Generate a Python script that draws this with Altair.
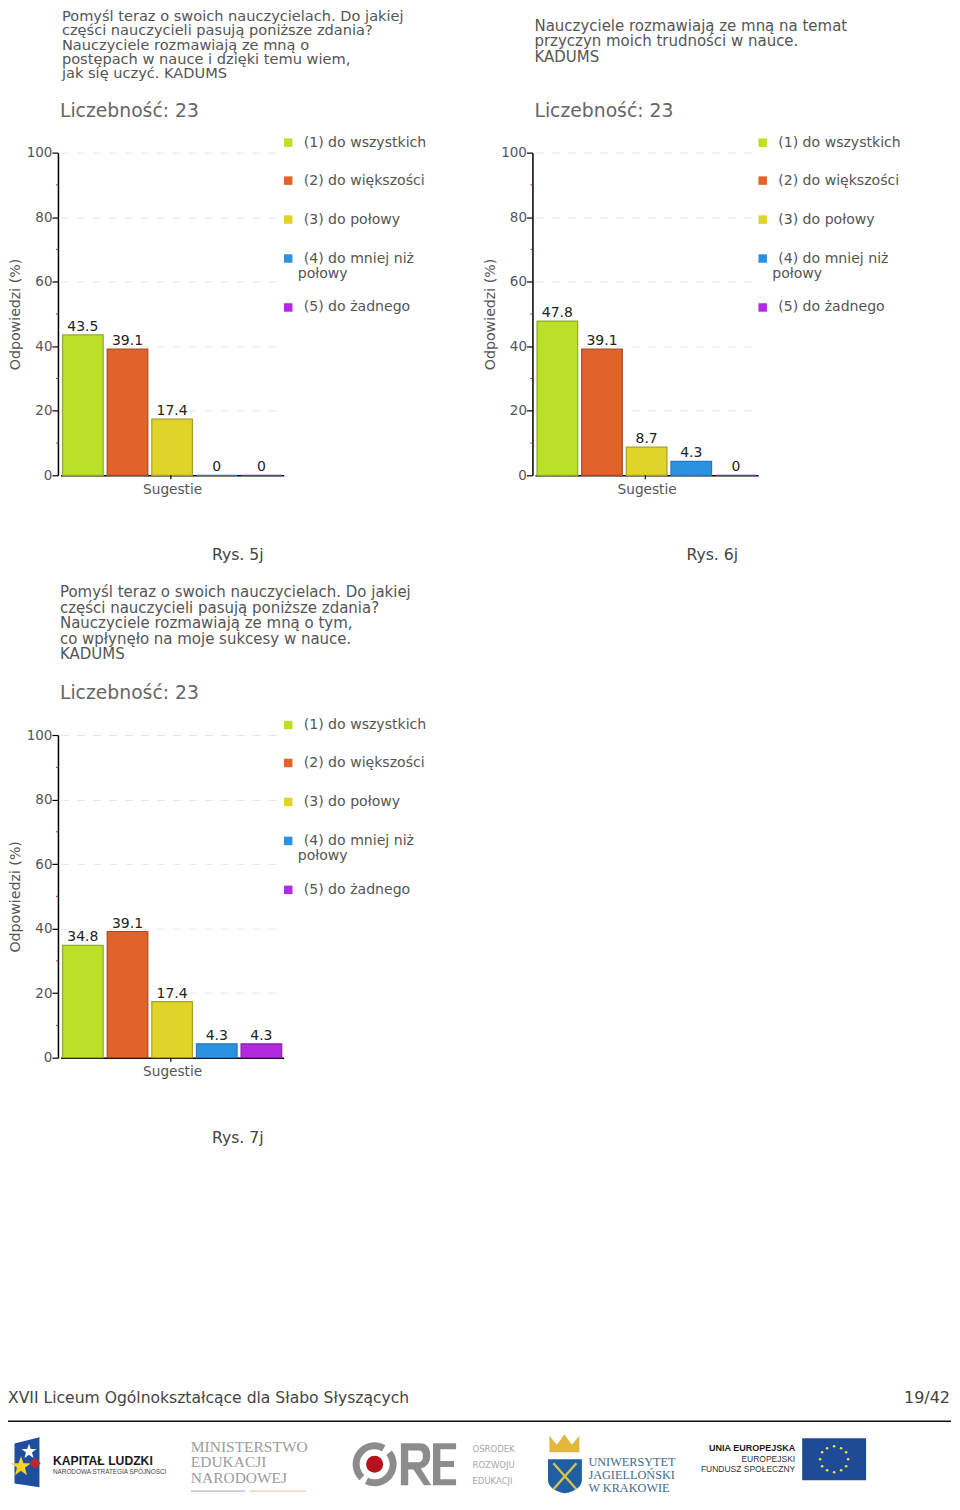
import altair as alt
import pandas as pd

categories = ["(1) do wszystkich", "(2) do większości", "(3) do połowy", "(4) do mniej niż połowy", "(5) do żadnego"]
colors = ["#BBE02A", "#E0642A", "#E0D42A", "#2A92E0", "#B22AE0"]
strokes = ["#93A82A", "#A84A20", "#A89E2A", "#2A78B8", "#8A20B0"]
values_5j = [43.5, 39.1, 17.4, 0, 0]
values_6j = [47.8, 39.1, 8.7, 4.3, 0]
values_7j = [34.8, 39.1, 17.4, 4.3, 4.3]
major_ticks = [0, 20, 40, 60, 80, 100]
minor_ticks = [10, 30, 50, 70, 90]

title_5j = ["Pomyśl teraz o swoich nauczycielach. Do jakiej", "części nauczycieli pasują poniższe zdania?",
            "Nauczyciele rozmawiają ze mną o", "postępach w nauce i dzięki temu wiem,", "jak się uczyć. KADUMS"]
title_6j = ["Nauczyciele rozmawiają ze mną na temat", "przyczyn moich trudności w nauce.", "KADUMS"]
title_7j = ["Pomyśl teraz o swoich nauczycielach. Do jakiej", "części nauczycieli pasują poniższe zdania?",
            "Nauczyciele rozmawiają ze mną o tym,", "co wpłynęło na moje sukcesy w nauce.", "KADUMS"]

SANS = "DejaVu Sans"
SERIF = "Liberation Serif"
GREY = "#555555"
ONE = alt.Data(values=[{"a": 0}])
W, H = 227, 323
STAR = "M0,-1 L.25,-.3 L1,-.3 L.4,.15 L.6,.9 L0,.45 L-.6,.9 L-.4,.15 L-1,-.3 L-.25,-.3 Z"


def text(s, px, py, org, size=13.5, color=GREY, font=SANS, weight="normal", align="left", angle=None):
    kw = {} if angle is None else {"angle": angle}
    return alt.Chart(ONE).mark_text(text=s, fontSize=size, color=color, font=font, fontWeight=weight,
                                    align=align, baseline="middle", **kw).encode(
        x=alt.value(px - org[0]), y=alt.value(py - org[1]))


def rect(x0, y0, x1, y1, org, color):
    return alt.Chart(ONE).mark_rect(color=color, opacity=1).encode(
        x=alt.value(x0 - org[0]), x2=alt.value(x1 - org[0]),
        y=alt.value(y0 - org[1]), y2=alt.value(y1 - org[1]))


def rule(x0, y0, x1, y1, org, color, width=1.0):
    return alt.Chart(ONE).mark_rule(color=color, strokeWidth=width).encode(
        x=alt.value(x0 - org[0]), x2=alt.value(x1 - org[0]),
        y=alt.value(y0 - org[1]), y2=alt.value(y1 - org[1]))


def symbol(shape, px, py, org, size, color):
    return alt.Chart(ONE).mark_point(shape=shape, filled=True, size=size, color=color, opacity=1, strokeWidth=0).encode(
        x=alt.value(px - org[0]), y=alt.value(py - org[1]))


def panel(vals, title_lines, title_x, title_ys, title_size, caption, org):
    df = pd.DataFrame({"cat": categories, "val": vals})
    x = alt.X("cat:N", sort=categories,
              scale=alt.Scale(domain=categories, range=[2.6, 226.0], paddingInner=0.09, paddingOuter=0.045),
              axis=alt.Axis(labels=False, ticks=False, title="Sugestie", titlePadding=7, titleFont=SANS,
                            titleFontSize=13.7, titleFontWeight="normal", titleColor=GREY,
                            domainColor="#000000", domainWidth=1.5, grid=False))
    y = alt.Y("val:Q", scale=alt.Scale(domain=[0, 100]),
              axis=alt.Axis(values=major_ticks, title="Odpowiedzi (%)", titleX=-35, titleFont=SANS, titleFontSize=14.2,
                            titleFontWeight="normal", titleColor=GREY, labelFont=SANS, labelFontSize=13.5,
                            labelColor=GREY, labelPadding=0, tickColor="#000000", tickSize=6, tickWidth=1.2,
                            domainColor="#000000", domainWidth=1.5, grid=True, gridColor="#E6E6E6",
                            gridDash=[8, 8], gridWidth=1))
    bars = alt.Chart(df).mark_bar(strokeWidth=1.2).encode(
        x=x, y=y,
        color=alt.Color("cat:N", sort=categories, scale=alt.Scale(domain=categories, range=colors), legend=None),
        stroke=alt.Stroke("cat:N", sort=categories, scale=alt.Scale(domain=categories, range=strokes), legend=None))
    labels = alt.Chart(df).mark_text(fontSize=14, font=SANS, color="#222222", dy=-8, baseline="middle").encode(
        x=alt.X("cat:N", sort=categories), y=alt.Y("val:Q"), text=alt.Text("val:Q"))
    minor = alt.Chart(pd.DataFrame({"val": minor_ticks})).mark_rule(color="#CC2222", strokeWidth=1).encode(
        y=alt.Y("val:Q"), x=alt.value(-2), x2=alt.value(0))
    layers = [bars, labels, minor]
    layers.append(rule(org[0] + 113, org[1] + H, org[0] + 113, org[1] + H + 4, org, "#000000", 1.2))
    for s, yy in zip(title_lines, title_ys):
        layers.append(text(s, title_x, yy, org, size=title_size))
    layers.append(text("Liczebność: 23", org[0] + 2, org[1] - 42, org, size=18.8, color="#666666"))
    leg_y = [-10, 28, 67, 106, 155]
    leg_text = ["(1) do wszystkich", "(2) do większości", "(3) do połowy", "(4) do mniej niż", "(5) do żadnego"]
    for c, s, dy in zip(colors, leg_text, leg_y):
        layers.append(symbol("square", org[0] + 230.5, org[1] + dy, org, 72, c))
        layers.append(text(s, org[0] + 246, org[1] + dy, org, size=14.1))
    layers.append(text("połowy", org[0] + 240, org[1] + 121, org, size=14.1))
    layers.append(text(caption, org[0] + 180, org[1] + 403, org, size=15.7, color="#444444", align="center"))
    return layers


org1, org2, org3 = (58, 152), (533, 152), (58, 735)
p1 = panel(values_5j, title_5j, 62, [16, 30.5, 45, 59, 73], 14.6, "Rys. 5j", org1)
p2 = panel(values_6j, title_6j, 535, [25, 40.5, 56], 15, "Rys. 6j", org2)
p3 = panel(values_7j, title_7j, 60, [592, 607.5, 623, 638.5, 654], 15, "Rys. 7j", org3)

# footer, drawn with the third panel
o = org3
foot = [
    text("XVII Liceum Ogólnokształcące dla Słabo Słyszących", 8, 1399, o, size=15.6, color="#444444"),
    text("19/42", 951, 1399, o, size=16, color="#444444", align="right"),
    rule(8, 1422, 952, 1422, o, "#111111", 1.6),
    # Kapitał Ludzki
    symbol("M-.5,-.75 L.5,-1 L.5,1 L-.5,.85 Z", 27, 1463, o, 2500, "#1F4E9E"),
    symbol(STAR, 29, 1452, o, 225, "#FFFFFF"),
    symbol(STAR, 21, 1467, o, 400, "#F5D327"),
    symbol("diamond", 35, 1464, o, 130, "#C0272D"),
    text("KAPITAŁ LUDZKI", 53, 1462, o, size=12.2, color="#1A1A1A", font="Liberation Sans", weight="bold"),
    text("NARODOWA STRATEGIA SPÓJNOŚCI", 53, 1473, o, size=6.4, color="#444444", font="Liberation Sans"),
    # Ministerstwo
    text("MINISTERSTWO", 191, 1448, o, size=15.5, color="#9C9C9C", font=SERIF),
    text("EDUKACJI", 191, 1463, o, size=15.5, color="#9C9C9C", font=SERIF),
    text("NARODOWEJ", 191, 1479, o, size=15.5, color="#9C9C9C", font=SERIF),
    rule(191, 1492, 245, 1492, o, "#AEB8C8", 1.2),
    rule(250, 1492, 306, 1492, o, "#E8C8A8", 1.2),
    # ORE
    alt.Chart(ONE).mark_arc(color="#8C8C8C").encode(x=alt.value(375 - o[0]), y=alt.value(1465 - o[1]),
                                                   theta=alt.value(0.9), theta2=alt.value(3.6),
                                                   radius=alt.value(22), radius2=alt.value(15)),
    alt.Chart(ONE).mark_arc(color="#8C8C8C").encode(x=alt.value(375 - o[0]), y=alt.value(1465 - o[1]),
                                                   theta=alt.value(3.9), theta2=alt.value(6.8),
                                                   radius=alt.value(22), radius2=alt.value(15)),
    symbol("circle", 375, 1465, o, 290, "#B5121B"),
    symbol("M-.7,-1 H.2 Q.7,-1 .7,-.4 Q.7,.1 .25,.2 L.75,1 H.4 L-.1,.25 H-.35 V1 H-.7 Z "
           "M-.35,-.65 V-.1 H.15 Q.35,-.1 .35,-.4 Q.35,-.65 .15,-.65 Z", 416, 1465, o, 1764, "#8C8C8C"),
    symbol("M-.55,-1 H.55 V-.72 H-.2 V-.15 H.45 V.13 H-.2 V.72 H.55 V1 H-.55 Z", 445, 1465, o, 1764, "#8C8C8C"),
    text("OŚRODEK", 473, 1450, o, size=8.5, color="#A8A8A8"),
    text("ROZWOJU", 473, 1466, o, size=8.5, color="#A8A8A8"),
    text("EDUKACJI", 473, 1482, o, size=8.5, color="#A8A8A8"),
    # Uniwersytet Jagielloński
    symbol("M-1,.2 L-1,-.9 L-.5,-.3 L0,-1 L.5,-.3 L1,-.9 L1,.2 Z", 565, 1450, o, 900, "#E3B63C"),
    symbol("M-1,-1 H1 V.2 Q1,.8 0,1 Q-1,.8 -1,.2 Z", 565.5, 1477, o, 1156, "#1F5FA3"),
    rule(554, 1464, 577, 1490, o, "#D9C24A", 2.4),
    rule(577, 1464, 554, 1490, o, "#D9C24A", 2.4),
    text("UNIWERSYTET", 589, 1463, o, size=12.3, color="#3E6A8A", font=SERIF),
    text("JAGIELLOŃSKI", 589, 1476, o, size=12.3, color="#3E6A8A", font=SERIF),
    text("W KRAKOWIE", 589, 1489, o, size=12.3, color="#3E6A8A", font=SERIF),
    # EU
    text("UNIA EUROPEJSKA", 796, 1449, o, size=9, color="#1A1A1A", font="Liberation Sans", weight="bold", align="right"),
    text("EUROPEJSKI", 796, 1459.5, o, size=8.5, color="#333333", font="Liberation Sans", align="right"),
    text("FUNDUSZ SPOŁECZNY", 796, 1470, o, size=8.5, color="#333333", font="Liberation Sans", align="right"),
    rect(803, 1439, 867, 1481, o, "#1F4A96"),
]
eu_stars = [(0, -13), (7, -11), (12, -7), (14, 0), (12, 7), (7, 11), (0, 13), (-7, 11), (-12, 7), (-14, 0), (-12, -7), (-7, -11)]
for dx, dy in eu_stars:
    foot.append(symbol("circle", 835 + dx, 1460 + dy, o, 7, "#E8E04A"))

c1 = alt.layer(*p1).properties(width=W, height=H)
c2 = alt.layer(*p2).properties(width=W, height=H)
c3 = alt.layer(*(p3 + foot)).properties(width=W, height=H)

chart = alt.concat(c1, c2, c3, columns=2, spacing={"column": 248, "row": 260}, bounds="flush").properties(
    padding={"left": -1, "top": 0, "right": 0, "bottom": 0}, background="#FFFFFF"
).configure_view(stroke=None)

chart.save("out.html", embed_options={"renderer": "svg", "actions": False})
